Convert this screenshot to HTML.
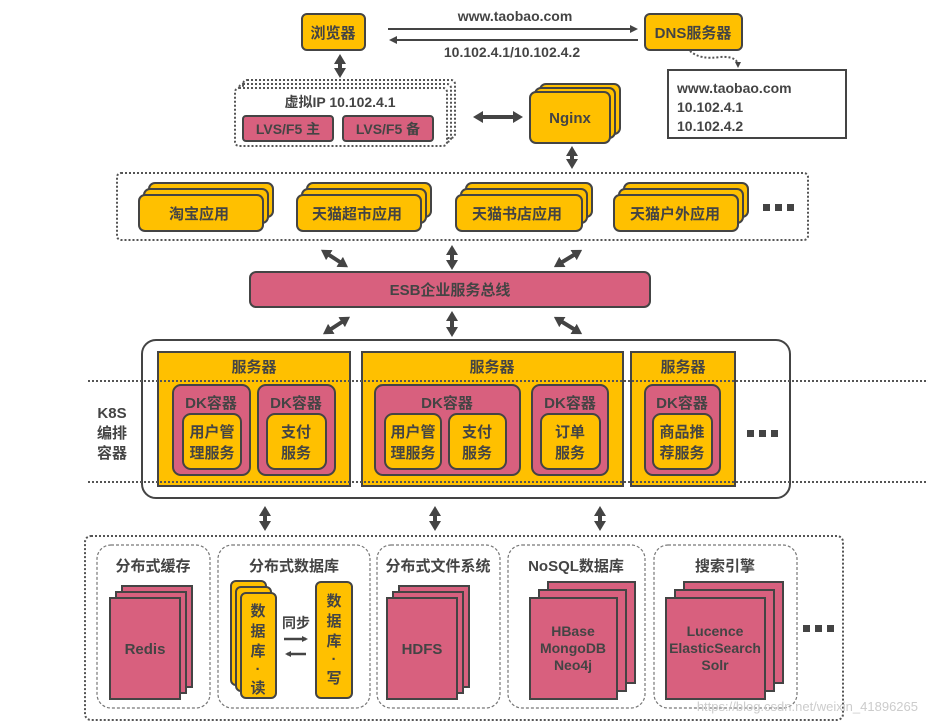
<!DOCTYPE html>
<html><head><meta charset="utf-8"><style>
html,body{margin:0;padding:0;background:#fff;}
svg{display:block;}
text{font-family:"Liberation Sans","Noto Sans CJK SC",sans-serif;font-weight:bold;fill:#444;}
.y{fill:#FFC000;stroke:#444;stroke-width:2;}
.p{fill:#D8607E;stroke:#444;stroke-width:2;}
.dot{fill:none;stroke:#555;stroke-width:2;stroke-dasharray:2 2;}
.dash{fill:#fff;stroke:#777;stroke-width:1.2;stroke-dasharray:3 2;}
.ar{stroke:#444;stroke-width:4;fill:none;}
</style></head><body>
<svg width="928" height="724" viewBox="0 0 928 724" xmlns="http://www.w3.org/2000/svg">
<defs>
<marker id="ah" markerWidth="8" markerHeight="8" refX="5" refY="4" orient="auto" markerUnits="userSpaceOnUse"><path d="M0,0 L8,4 L0,8 Z" fill="#444"/></marker>
<marker id="as" markerWidth="6" markerHeight="6" refX="4" refY="3" orient="auto" markerUnits="userSpaceOnUse"><path d="M0,0 L6,3 L0,6 Z" fill="#444"/></marker>
<marker id="ah2" markerWidth="10" markerHeight="12" refX="4" refY="6" orient="auto-start-reverse" markerUnits="userSpaceOnUse"><path d="M0,0 L10,6 L0,12 Z" fill="#444"/></marker>
</defs>

<!-- top -->
<rect class="y" x="302" y="14" width="63" height="36" rx="5"/>
<text x="333" y="38" font-size="15" text-anchor="middle">浏览器</text>
<rect class="y" x="645" y="14" width="97" height="36" rx="5"/>
<text x="693" y="38" font-size="15" text-anchor="middle">DNS服务器</text>
<line x1="388" y1="29" x2="635" y2="29" stroke="#444" stroke-width="2" marker-end="url(#ah)"/>
<line x1="638" y1="40" x2="392" y2="40" stroke="#444" stroke-width="2" marker-end="url(#ah)"/>
<text x="515" y="21" font-size="14" text-anchor="middle">www.taobao.com</text>
<text x="512" y="57" font-size="14" text-anchor="middle">10.102.4.1/10.102.4.2</text>
<path d="M690,51 Q700,60 720,57 Q738,56 738,66" fill="none" stroke="#555" stroke-width="2" stroke-dasharray="2 2" marker-end="url(#as)"/>
<rect x="668" y="70" width="178" height="68" fill="#fff" stroke="#444" stroke-width="2"/>
<text x="677" y="93" font-size="14">www.taobao.com</text>
<text x="677" y="112" font-size="14">10.102.4.1</text>
<text x="677" y="131" font-size="14">10.102.4.2</text>

<line class="ar" x1="340" y1="60" x2="340" y2="72" marker-start="url(#ah2)" marker-end="url(#ah2)"/>

<!-- virtual ip -->
<rect class="dot" x="243" y="80" width="212" height="58" rx="4"/>
<rect class="dot" x="239" y="84" width="212" height="58" rx="4"/>
<rect x="235" y="88" width="212" height="58" rx="4" fill="#fff" stroke="#555" stroke-width="2" stroke-dasharray="2 2"/>
<text x="340" y="107" font-size="14" text-anchor="middle">虚拟IP 10.102.4.1</text>
<rect class="p" x="243" y="116" width="90" height="25" rx="3"/>
<text x="288" y="134" font-size="14" text-anchor="middle">LVS/F5 主</text>
<rect class="p" x="343" y="116" width="90" height="25" rx="3"/>
<text x="388" y="134" font-size="14" text-anchor="middle">LVS/F5 备</text>
<line class="ar" x1="479" y1="117" x2="517" y2="117" marker-start="url(#ah2)" marker-end="url(#ah2)"/>

<!-- nginx -->
<rect class="y" x="540" y="84" width="80" height="50" rx="6"/>
<rect class="y" x="535" y="88" width="80" height="50" rx="6"/>
<rect class="y" x="530" y="92" width="80" height="51" rx="6"/>
<text x="570" y="123" font-size="15" text-anchor="middle">Nginx</text>
<line class="ar" x1="572" y1="152" x2="572" y2="163" marker-start="url(#ah2)" marker-end="url(#ah2)"/>

<!-- apps -->
<rect class="dot" x="117" y="173" width="691" height="67" rx="4"/>
<g>
<rect class="y" x="149" y="183" width="124" height="34" rx="6"/><rect class="y" x="144" y="189" width="124" height="34" rx="6"/><rect class="y" x="139" y="195" width="124" height="36" rx="6"/>
<text x="199" y="219" font-size="15" text-anchor="middle">淘宝应用</text>
<rect class="y" x="307" y="183" width="124" height="34" rx="6"/><rect class="y" x="302" y="189" width="124" height="34" rx="6"/><rect class="y" x="297" y="195" width="124" height="36" rx="6"/>
<text x="357" y="219" font-size="15" text-anchor="middle">天猫超市应用</text>
<rect class="y" x="466" y="183" width="126" height="34" rx="6"/><rect class="y" x="461" y="189" width="126" height="34" rx="6"/><rect class="y" x="456" y="195" width="126" height="36" rx="6"/>
<text x="517" y="219" font-size="15" text-anchor="middle">天猫书店应用</text>
<rect class="y" x="624" y="183" width="124" height="34" rx="6"/><rect class="y" x="619" y="189" width="124" height="34" rx="6"/><rect class="y" x="614" y="195" width="124" height="36" rx="6"/>
<text x="675" y="219" font-size="15" text-anchor="middle">天猫户外应用</text>
</g>
<g fill="#444"><rect x="763" y="204" width="7" height="7"/><rect x="775" y="204" width="7" height="7"/><rect x="787" y="204" width="7" height="7"/></g>

<line class="ar" x1="326" y1="253" x2="343" y2="264" marker-start="url(#ah2)" marker-end="url(#ah2)"/>
<line class="ar" x1="452" y1="251" x2="452" y2="264" marker-start="url(#ah2)" marker-end="url(#ah2)"/>
<line class="ar" x1="559" y1="264" x2="577" y2="253" marker-start="url(#ah2)" marker-end="url(#ah2)"/>

<rect class="p" x="250" y="272" width="400" height="35" rx="6"/>
<text x="450" y="295" font-size="15" text-anchor="middle">ESB企业服务总线</text>

<line class="ar" x1="328" y1="331" x2="345" y2="320" marker-start="url(#ah2)" marker-end="url(#ah2)"/>
<line class="ar" x1="452" y1="317" x2="452" y2="331" marker-start="url(#ah2)" marker-end="url(#ah2)"/>
<line class="ar" x1="559" y1="320" x2="577" y2="331" marker-start="url(#ah2)" marker-end="url(#ah2)"/>

<!-- K8S -->
<rect x="142" y="340" width="648" height="158" rx="14" fill="#fff" stroke="#444" stroke-width="2"/>
<rect class="y" x="158" y="352" width="192" height="134"/>
<rect class="y" x="362" y="352" width="261" height="134"/>
<rect class="y" x="631" y="352" width="104" height="134"/>
<text x="254" y="372" font-size="15" text-anchor="middle">服务器</text>
<text x="492" y="372" font-size="15" text-anchor="middle">服务器</text>
<text x="683" y="372" font-size="15" text-anchor="middle">服务器</text>
<line x1="88" y1="381" x2="928" y2="381" class="dot"/>
<line x1="88" y1="482" x2="928" y2="482" class="dot"/>

<rect class="p" x="173" y="385" width="77" height="90" rx="8"/>
<text x="211" y="408" font-size="15" text-anchor="middle">DK容器</text>
<rect class="y" x="183" y="414" width="58" height="55" rx="8"/>
<text x="212" y="437" font-size="15" text-anchor="middle">用户管</text><text x="212" y="458" font-size="15" text-anchor="middle">理服务</text>
<rect class="p" x="258" y="385" width="77" height="90" rx="8"/>
<text x="296" y="408" font-size="15" text-anchor="middle">DK容器</text>
<rect class="y" x="267" y="414" width="59" height="55" rx="8"/>
<text x="296" y="437" font-size="15" text-anchor="middle">支付</text><text x="296" y="458" font-size="15" text-anchor="middle">服务</text>

<rect class="p" x="375" y="385" width="145" height="90" rx="8"/>
<text x="447" y="408" font-size="15" text-anchor="middle">DK容器</text>
<rect class="y" x="385" y="414" width="56" height="55" rx="8"/>
<text x="413" y="437" font-size="15" text-anchor="middle">用户管</text><text x="413" y="458" font-size="15" text-anchor="middle">理服务</text>
<rect class="y" x="449" y="414" width="57" height="55" rx="8"/>
<text x="477" y="437" font-size="15" text-anchor="middle">支付</text><text x="477" y="458" font-size="15" text-anchor="middle">服务</text>
<rect class="p" x="532" y="385" width="76" height="90" rx="8"/>
<text x="570" y="408" font-size="15" text-anchor="middle">DK容器</text>
<rect class="y" x="541" y="414" width="59" height="55" rx="8"/>
<text x="570" y="437" font-size="15" text-anchor="middle">订单</text><text x="570" y="458" font-size="15" text-anchor="middle">服务</text>

<rect class="p" x="645" y="385" width="75" height="90" rx="8"/>
<text x="682" y="408" font-size="15" text-anchor="middle">DK容器</text>
<rect class="y" x="653" y="414" width="59" height="55" rx="8"/>
<text x="682" y="437" font-size="15" text-anchor="middle">商品推</text><text x="682" y="458" font-size="15" text-anchor="middle">荐服务</text>
<g fill="#444"><rect x="747" y="430" width="7" height="7"/><rect x="759" y="430" width="7" height="7"/><rect x="771" y="430" width="7" height="7"/></g>

<text x="112" y="418" font-size="15" text-anchor="middle">K8S</text>
<text x="112" y="438" font-size="15" text-anchor="middle">编排</text>
<text x="112" y="458" font-size="15" text-anchor="middle">容器</text>

<line class="ar" x1="265" y1="512" x2="265" y2="525" marker-start="url(#ah2)" marker-end="url(#ah2)"/>
<line class="ar" x1="435" y1="512" x2="435" y2="525" marker-start="url(#ah2)" marker-end="url(#ah2)"/>
<line class="ar" x1="600" y1="512" x2="600" y2="525" marker-start="url(#ah2)" marker-end="url(#ah2)"/>

<!-- bottom -->
<rect class="dot" x="85" y="536" width="758" height="184" rx="6"/>
<rect class="dash" x="97" y="545" width="113" height="163" rx="14"/>
<rect class="dash" x="218" y="545" width="152" height="163" rx="14"/>
<rect class="dash" x="377" y="545" width="123" height="163" rx="14"/>
<rect class="dash" x="508" y="545" width="137" height="163" rx="14"/>
<rect class="dash" x="654" y="545" width="143" height="163" rx="14"/>
<text x="153" y="571" font-size="15" text-anchor="middle">分布式缓存</text>
<text x="294" y="571" font-size="15" text-anchor="middle">分布式数据库</text>
<text x="438" y="571" font-size="15" text-anchor="middle">分布式文件系统</text>
<text x="576" y="571" font-size="15" text-anchor="middle">NoSQL数据库</text>
<text x="725" y="571" font-size="15" text-anchor="middle">搜索引擎</text>

<rect class="p" x="122" y="586" width="70" height="101"/><rect class="p" x="116" y="592" width="70" height="101"/><rect class="p" x="110" y="598" width="70" height="101"/>
<text x="145" y="654" font-size="15" text-anchor="middle">Redis</text>

<rect class="y" x="231" y="581" width="35" height="104" rx="5"/><rect class="y" x="236" y="587" width="35" height="104" rx="5"/><rect class="y" x="241" y="593" width="35" height="105" rx="5"/>
<text x="258" y="616" font-size="15" text-anchor="middle">数</text><text x="258" y="636" font-size="15" text-anchor="middle">据</text><text x="258" y="656" font-size="15" text-anchor="middle">库</text><text x="258" y="674" font-size="15" text-anchor="middle">·</text><text x="258" y="693" font-size="15" text-anchor="middle">读</text>
<rect class="y" x="316" y="582" width="36" height="116" rx="5"/>
<text x="334" y="606" font-size="15" text-anchor="middle">数</text><text x="334" y="626" font-size="15" text-anchor="middle">据</text><text x="334" y="646" font-size="15" text-anchor="middle">库</text><text x="334" y="664" font-size="15" text-anchor="middle">·</text><text x="334" y="683" font-size="15" text-anchor="middle">写</text>
<text x="296" y="628" font-size="14" text-anchor="middle">同步</text>
<line x1="284" y1="639" x2="306" y2="639" stroke="#444" stroke-width="2.5" marker-end="url(#as)"/>
<line x1="306" y1="654" x2="287" y2="654" stroke="#444" stroke-width="2.5" marker-end="url(#as)"/>

<rect class="p" x="399" y="586" width="70" height="101"/><rect class="p" x="393" y="592" width="70" height="101"/><rect class="p" x="387" y="598" width="70" height="101"/>
<text x="422" y="654" font-size="15" text-anchor="middle">HDFS</text>

<rect class="p" x="548" y="582" width="87" height="101"/><rect class="p" x="539" y="590" width="87" height="101"/><rect class="p" x="530" y="598" width="87" height="101"/>
<text x="573" y="636" font-size="14" text-anchor="middle">HBase</text>
<text x="573" y="653" font-size="14" text-anchor="middle">MongoDB</text>
<text x="573" y="670" font-size="14" text-anchor="middle">Neo4j</text>

<rect class="p" x="684" y="582" width="99" height="101"/><rect class="p" x="675" y="590" width="99" height="101"/><rect class="p" x="666" y="598" width="99" height="101"/>
<text x="715" y="636" font-size="14" text-anchor="middle">Lucence</text>
<text x="715" y="653" font-size="14" text-anchor="middle">ElasticSearch</text>
<text x="715" y="670" font-size="14" text-anchor="middle">Solr</text>

<g fill="#444"><rect x="803" y="625" width="7" height="7"/><rect x="815" y="625" width="7" height="7"/><rect x="827" y="625" width="7" height="7"/></g>

<text x="918" y="711" font-size="13" text-anchor="end" style="font-weight:normal;fill:#ccc">https://blog.csdn.net/weixin_41896265</text>
</svg>
</body></html>
